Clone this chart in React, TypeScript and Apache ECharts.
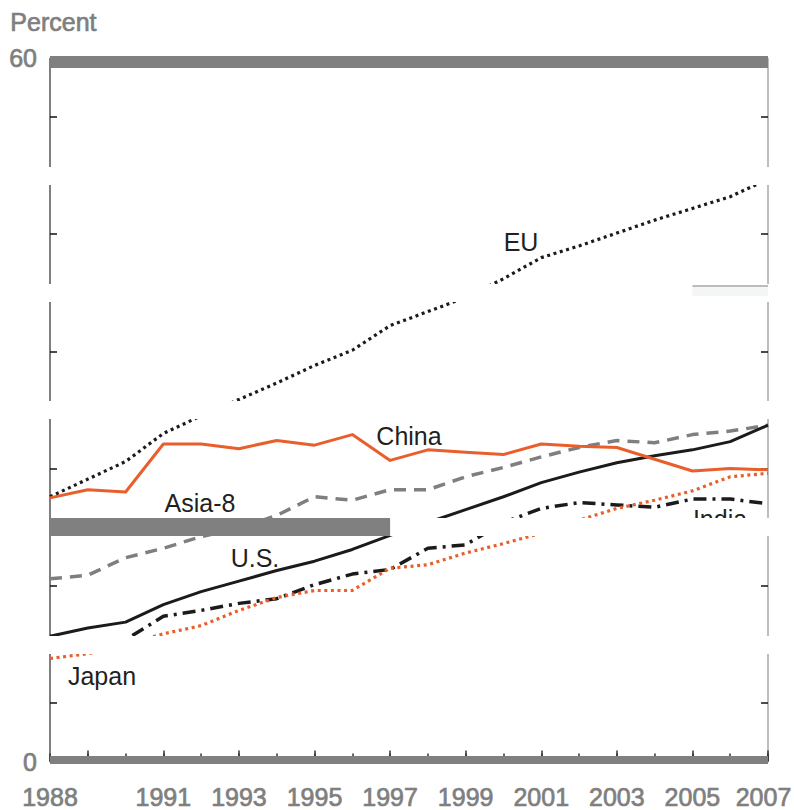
import React, { useEffect, useRef } from "react";
import * as echarts from "echarts";

const years = ["1988","1989","1990","1991","1992","1993","1994","1995","1996","1997","1998","1999","2000","2001","2002","2003","2004","2005","2006","2007"];
const euValues = [22.6,24.1,25.6,28.0,29.5,30.9,32.3,33.8,35.1,37.2,38.4,39.6,41.2,43.0,44.0,45.1,46.2,47.2,48.2,49.7];
const chinaValues = [22.5,23.2,23.0,27.1,27.1,26.7,27.4,27.0,27.9,25.7,26.6,26.4,26.2,27.1,26.9,26.8,25.8,24.8,25.0,24.9];
const asia8Values = [15.6,15.9,17.4,18.2,19.2,19.9,21.0,22.6,22.3,23.2,23.2,24.3,25.1,26.0,26.8,27.4,27.2,27.9,28.2,28.7];
const usValues = [10.7,11.4,11.9,13.4,14.5,15.4,16.3,17.1,18.1,19.3,20.4,21.5,22.6,23.8,24.7,25.5,26.1,26.6,27.3,28.7];
const indiaValues = [9.7,10.0,10.4,12.4,12.9,13.5,13.9,15.1,16.0,16.4,18.2,18.5,20.4,21.6,22.1,21.9,21.7,22.4,22.4,22.0];
const japanValues = [8.8,9.2,10.0,10.9,11.6,12.9,14.0,14.6,14.6,16.5,16.8,17.8,18.6,19.5,20.6,21.6,22.3,23.1,24.3,24.6];
const yTickLabels = [0, 60];

const FONT = "'Liberation Sans', Arial, Helvetica, sans-serif";
const ORANGE = "#e95f2b";
const BLACK = "#1c1a1a";
const GRAY = "#7f7f7f";

export default function App() {
  const ref = useRef<HTMLDivElement>(null);
  useEffect(() => {
    if (!ref.current) return;
    const chart = echarts.init(ref.current, undefined, { renderer: "svg" });
    const lineSeries = (name: string, data: number[], color: string, type: any, width: number) => ({
      name,
      type: "line",
      data,
      symbol: "none",
      z: 2,
      lineStyle: { color, width, type, cap: "butt", join: "round" },
    });
    const grayText = {
      color: GRAY,
      fontSize: 25,
      fontFamily: FONT,
      textBorderColor: GRAY,
      textBorderWidth: 0.7,
    };
    const lastYear = years[years.length - 1];
    const option: any = {
      animation: false,
      textStyle: { fontFamily: FONT },
      grid: { left: 50, right: 26, top: 58.4, bottom: 48.4, containLabel: false, outerBoundsMode: "none" },
      xAxis: [
        {
          type: "category",
          data: years,
          boundaryGap: false,
          position: "bottom",
          axisLine: { show: false },
          axisTick: { show: true, inside: true, length: 8, interval: 0, lineStyle: { color: "#333", width: 1.5 } },
          axisLabel: {
            show: true,
            interval: (i: number, v: string) => v === "1988" || (Number(v) % 2 === 1 && Number(v) >= 1991),
            ...grayText,
            margin: 23,
            formatter: (v: string) => (v === lastYear ? `{last|${v}}` : v),
            rich: { last: { ...grayText, padding: [0, 9, 0, 0] } },
          },
          splitLine: { show: false },
        },
        {
          type: "category",
          data: years,
          boundaryGap: false,
          position: "bottom",
          axisLine: { show: false },
          axisTick: {
            show: true,
            inside: true,
            length: 11,
            interval: (i: number, v: string) => Number(v) % 2 === 1,
            lineStyle: { color: "#333", width: 1.5 },
          },
          axisLabel: { show: false },
          splitLine: { show: false },
        },
      ],
      yAxis: [
        {
          type: "value",
          min: 0,
          max: 60,
          interval: 5,
          position: "left",
          axisLine: { show: true, onZero: false, lineStyle: { color: "#555", width: 1.5 } },
          axisTick: { show: true, inside: true, length: 7, lineStyle: { color: "#111", width: 1.5 } },
          axisLabel: {
            ...grayText,
            margin: 13,
            formatter: (v: number) => (yTickLabels.includes(v) ? String(v) : ""),
          },
          splitLine: { show: false },
        },
        {
          type: "value",
          min: 0,
          max: 60,
          interval: 5,
          position: "right",
          axisLine: { show: true, onZero: false, lineStyle: { color: "#a8a8a8", width: 1.5 } },
          axisTick: { show: true, inside: true, length: 7, lineStyle: { color: "#111", width: 1.5 } },
          axisLabel: { show: false },
          splitLine: { show: false },
        },
      ],
      series: [
        lineSeries("EU", euValues, BLACK, [3, 3.6], 3.2),
        lineSeries("Asia-8", asia8Values, GRAY, [12, 8], 3.5),
        lineSeries("U.S.", usValues, BLACK, "solid", 3),
        lineSeries("India", indiaValues, BLACK, [13, 6, 3, 6], 3.5),
        lineSeries("Japan", japanValues, ORANGE, [3, 3.6], 3.2),
        lineSeries("China", chinaValues, ORANGE, "solid", 3),
        {
          name: "gaps",
          type: "line",
          data: [],
          markLine: {
            z: 5,
            silent: true,
            symbol: ["none", "none"],
            label: { show: false },
            lineStyle: { color: "#ffffff", width: 18, type: "solid", cap: "square" },
            data: [
              { yAxis: 10 },
              { yAxis: 30 },
              { yAxis: 40 },
              { yAxis: 50 },
              [{ coord: ["1997", 20] }, { coord: ["2007", 20] }],
            ],
          },
        },
        {
          name: "bars",
          type: "line",
          data: [],
          markLine: {
            z: 6,
            silent: true,
            symbol: ["none", "none"],
            label: { show: false },
            lineStyle: { color: "#808080", width: 12, type: "solid", cap: "butt" },
            data: [
              { yAxis: 59.7, lineStyle: { color: "#808080", width: 12, type: "solid" } },
              { yAxis: 0.15, lineStyle: { color: "#808080", width: 8, type: "solid" } },
              [
                { coord: ["1988", 20], lineStyle: { color: "#808080", width: 18, type: "solid" } },
                { coord: ["1997", 20], lineStyle: { color: "#808080", width: 18, type: "solid" } },
              ],
              [
                { coord: ["2005", 40.11], lineStyle: { color: "#f4f6f5", width: 9, type: "solid" } },
                { coord: ["2007", 40.11], lineStyle: { color: "#f4f6f5", width: 9, type: "solid" } },
              ],
              [
                { coord: ["2005", 40.58], lineStyle: { color: "#bcbcbc", width: 2, type: "solid" } },
                { coord: ["2007", 40.58], lineStyle: { color: "#bcbcbc", width: 2, type: "solid" } },
              ],
            ],
          },
        },
      ],
      graphic: [
        { type: "text", left: 10, top: 9, z: 1, style: { text: "Percent", fill: GRAY, stroke: GRAY, lineWidth: 0.7, font: `25px ${FONT}` } },
        { type: "text", x: 521, y: 242, z: 1, style: { text: "EU", fill: "#231f20", font: `25px ${FONT}`, align: "center", verticalAlign: "middle" } },
        { type: "text", x: 409, y: 436, z: 1, style: { text: "China", fill: "#231f20", font: `25px ${FONT}`, align: "center", verticalAlign: "middle" } },
        { type: "text", x: 200, y: 503, z: 1, style: { text: "Asia-8", fill: "#231f20", font: `25px ${FONT}`, align: "center", verticalAlign: "middle" } },
        { type: "text", x: 255, y: 558, z: 1, style: { text: "U.S.", fill: "#231f20", font: `25px ${FONT}`, align: "center", verticalAlign: "middle" } },
        { type: "text", x: 720, y: 519, z: 1, style: { text: "India", fill: "#231f20", font: `25px ${FONT}`, align: "center", verticalAlign: "middle" } },
        { type: "text", x: 102, y: 676, z: 1, style: { text: "Japan", fill: "#231f20", font: `25px ${FONT}`, align: "center", verticalAlign: "middle" } },
      ],
    };
    chart.setOption(option);
    return () => chart.dispose();
  }, []);
  return <div ref={ref} style={{ position: "fixed", left: 0, top: 0, width: 794, height: 810, background: "#fff" }} />;
}
